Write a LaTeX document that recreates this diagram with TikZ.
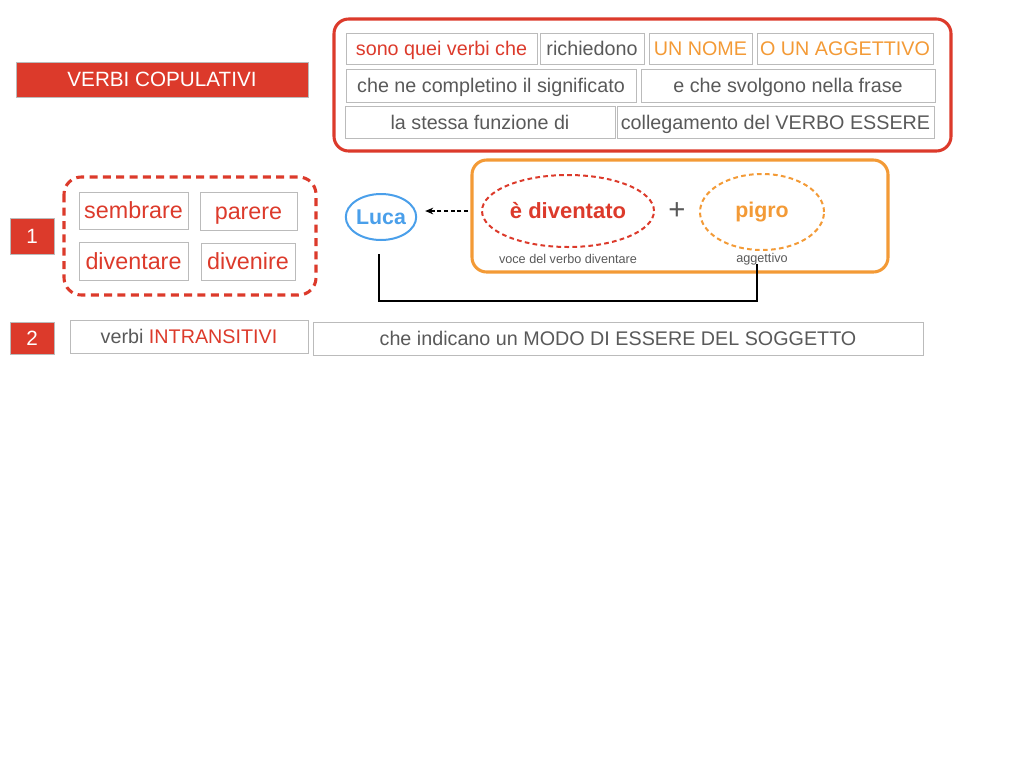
\documentclass[tikz,border=0pt]{standalone}
\usepackage{fontspec}
\setmainfont{Liberation Sans}
\usetikzlibrary{arrows.meta,shapes.geometric}
\definecolor{cred}{HTML}{DC3A2B}
\definecolor{corange}{HTML}{F39A36}
\definecolor{cblue}{HTML}{4A9FEA}
\definecolor{cgray}{HTML}{595959}
\definecolor{cborder}{HTML}{BBBBBB}
\newcommand{\bx}[7]{\node[#6, minimum width={(#4-#2)*0.75pt}, minimum height={(#5-#3)*0.75pt}] (#1) at ({(#2+#4)/2},{(#3+#5)/2}) {#7};}
\tikzset{
  gbox/.style={draw=cborder, line width=0.65pt, inner sep=0pt, outer sep=0pt, text=cgray, font=\fontsize{14.8}{16}\selectfont, text height=10.6pt, text depth=0pt},
  wbox/.style={gbox, font=\fontsize{17.5}{20}\selectfont, text=cred, text height=12.5pt},
  rfill/.style={draw=cborder, line width=0.65pt, fill=cred, inner sep=0pt, outer sep=0pt, text=white, font=\fontsize{15.5}{17}\selectfont, text height=11.1pt, text depth=0pt},
  small/.style={text=cgray, font=\fontsize{9.5}{11}\selectfont, inner sep=0pt},
}
\begin{document}
\begin{tikzpicture}[x=0.75pt,y=-0.75pt]
\useasboundingbox (0,0) rectangle (1024,768);
% title
\bx{title}{16}{62}{308}{97}{rfill}{VERBI COPULATIVI}
% big red frame
\draw[cred, line width=2.3pt, rounded corners=11pt] (334,19) rectangle (951,151);
\bx{t1}{346}{33}{537}{64}{gbox,text=cred}{sono quei verbi che}
\bx{t2}{540}{33}{644}{64}{gbox}{richiedono}
\bx{t3}{649}{33}{752}{64}{gbox,text=corange}{UN NOME}
\bx{t4}{757}{33}{933}{64}{gbox,text=corange}{O UN AGGETTIVO}
\bx{t5}{346}{69}{636}{102}{gbox}{che ne completino il significato}
\bx{t6}{641}{69}{935}{102}{gbox}{e che svolgono nella frase}
\bx{t7}{345}{106}{615}{138}{gbox}{la stessa funzione di}
\bx{t8}{617}{106}{934}{138}{gbox}{collegamento del VERBO ESSERE}
% section 1
\bx{n1}{10}{218}{54}{254}{rfill}{1}
\draw[cred, line width=2.3pt, dash pattern=on 6pt off 4pt, rounded corners=13pt] (64,177) rectangle (316,295);
\bx{w1}{79}{192}{188}{229}{wbox}{sembrare}
\bx{w2}{200}{192}{297}{230}{wbox}{parere}
\bx{w3}{79}{242}{188}{280}{wbox}{diventare}
\bx{w4}{201}{243}{295}{280}{wbox}{divenire}
% example
\node[ellipse, draw=cblue, line width=1.5pt, minimum width=66*0.75pt, minimum height=46*0.75pt, inner sep=0pt, text=cblue, font=\fontsize{16}{18}\selectfont\bfseries] (Luca) at (381,217) {Luca};
\draw[corange, line width=2.3pt, rounded corners=11pt] (472,160) rectangle (888,272);
\coordinate (obw) at (472,211);
\node[ellipse, draw=cred, line width=1.5pt, dash pattern=on 3.5pt off 2.5pt, minimum width=172*0.75pt, minimum height=72*0.75pt, inner sep=0pt, text=cred, font=\fontsize{16.5}{18}\selectfont\bfseries] (verb) at (568,211) {è diventato};
\node[text=cgray, font=\fontsize{22}{24}\selectfont, inner sep=0pt] (plus) at (677,211) {+};
\node[ellipse, draw=corange, line width=1.5pt, dash pattern=on 3.5pt off 2.5pt, minimum width=124*0.75pt, minimum height=76*0.75pt, inner sep=0pt, text=corange, font=\fontsize{16}{18}\selectfont\bfseries] (pigro) at (762,212) {pigro};
\node[small] (lv) at (568,259) {voce del verbo diventare};
\node[small] (la) at (762,259) {aggettivo};
\draw[dash pattern=on 3pt off 2pt, line width=1.2pt, -{Stealth[length=6pt,width=5pt]}] ([xshift=-3pt]obw) -- ([xshift=6pt]Luca.east |- obw);
\coordinate (lnk) at (757,264);
\coordinate (lnkB) at (757,301);
\draw[line width=1.5pt] ([xshift=-1.5pt,yshift=-10pt]Luca.south) |- (lnkB) -- (lnk);
% section 2
\bx{n2}{10}{322}{54}{354}{rfill}{2}
\bx{s1}{70}{320}{308}{353}{gbox}{verbi \textcolor{cred}{INTRANSITIVI}}
\bx{s2}{313}{322}{923}{355}{gbox}{che indicano un MODO DI ESSERE DEL SOGGETTO}
\end{tikzpicture}
\end{document}
